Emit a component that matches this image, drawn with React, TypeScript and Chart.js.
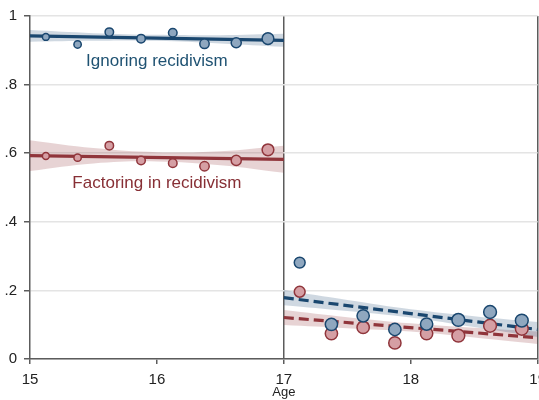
import { useEffect, useRef } from "react";
import { Chart, registerables } from "chart.js";

Chart.register(...registerables);

// Binned means by age, on each side of the age-17 cutoff
const preAges = [15.125, 15.375, 15.625, 15.875, 16.125, 16.375, 16.625, 16.875];
const postAges = [17.125, 17.375, 17.625, 17.875, 18.125, 18.375, 18.625, 18.875];

// Relative number of observations per bin (marker area)
const preBinWeights = [0.29, 0.33, 0.44, 0.44, 0.45, 0.54, 0.62, 0.84];
const postBinWeights = [0.72, 0.92, 0.92, 0.92, 0.92, 1.0, 1.0, 1.0];

const ignoringPre = [0.939, 0.917, 0.953, 0.934, 0.951, 0.919, 0.922, 0.934];
const ignoringPost = [0.281, 0.101, 0.126, 0.086, 0.102, 0.114, 0.137, 0.112];
const factoringPre = [0.592, 0.587, 0.622, 0.579, 0.571, 0.562, 0.579, 0.61];
const factoringPost = [0.196, 0.074, 0.092, 0.047, 0.074, 0.068, 0.097, 0.088];

// Linear fits on each side of the cutoff
const fitAgesPre = [15, 17];
const fitAgesPost = [17, 19];
const ignoringFitPre = [0.942, 0.929];
const ignoringFitPost = [0.179, 0.086];
const factoringFitPre = [0.593, 0.582];
const factoringFitPost = [0.121, 0.062];

// 95% confidence bands around the fits
const bandAgesPre = [15, 15.5, 16, 16.5, 17];
const bandAgesPost = [17, 17.5, 18, 18.5, 19];
const ignoringUpperPre = [0.959, 0.95, 0.945, 0.944, 0.948];
const ignoringLowerPre = [0.925, 0.928, 0.928, 0.92, 0.91];
const factoringUpperPre = [0.638, 0.615, 0.603, 0.606, 0.622];
const factoringLowerPre = [0.548, 0.57, 0.576, 0.565, 0.543];
const ignoringUpperPost = [0.201, 0.172, 0.145, 0.125, 0.108];
const ignoringLowerPost = [0.157, 0.14, 0.121, 0.093, 0.064];
const factoringUpperPost = [0.143, 0.122, 0.104, 0.091, 0.08];
const factoringLowerPost = [0.099, 0.09, 0.08, 0.063, 0.044];

const xTicks = [15, 16, 17, 18, 19];
const yTicks = [0, 0.2, 0.4, 0.6, 0.8, 1];
const yTickLabels = ["0", ".2", ".4", ".6", ".8", "1"];
const xTitle = "Age";
const seriesNames = ["Ignoring recidivism", "Factoring in recidivism"];

const NAVY = "#1a476f";
const MAROON = "#90353b";
const NAVY_FILL = "#8fa7bf";
const MAROON_FILL = "#d59fa4";
const NAVY_BAND = "rgba(26,71,111,0.21)";
const MAROON_BAND = "rgba(144,53,59,0.22)";
const FONT = "'Liberation Sans', Arial, sans-serif";

const pts = (xs: number[], ys: number[]) => xs.map((x, i) => ({ x, y: ys[i] }));
const radius = (w: number) => 6.4 * Math.sqrt(w);

const seriesLabelPlugin = {
  id: "seriesLabels",
  afterDatasetsDraw(chart: any) {
    const { ctx, scales } = chart;
    const items = [
      { text: seriesNames[0], x: 16, y: 0.855, color: "#1f5272" },
      { text: seriesNames[1], x: 16, y: 0.4985, color: "#872f35" },
    ];
    ctx.save();
    ctx.font = `17px ${FONT}`;
    ctx.textAlign = "center";
    ctx.textBaseline = "alphabetic";
    for (const it of items) {
      ctx.fillStyle = it.color;
      ctx.fillText(it.text, scales.x.getPixelForValue(it.x), scales.y.getPixelForValue(it.y));
    }
    ctx.restore();
  },
};

export default function App() {
  const canvasRef = useRef<HTMLCanvasElement | null>(null);

  useEffect(() => {
    const canvas = canvasRef.current;
    if (!canvas) return;

    const band = (xs: number[], ys: number[], color: string, fill: any) => ({
      data: pts(xs, ys),
      borderWidth: 0,
      borderColor: "rgba(0,0,0,0)",
      backgroundColor: color,
      pointRadius: 0,
      tension: 0.4,
      fill,
      order: 3,
    });
    const fit = (xs: number[], ys: number[], color: string, dashed: boolean) => ({
      data: pts(xs, ys),
      borderColor: color,
      borderWidth: 3.2,
      borderDash: dashed ? [10, 5] : [],
      pointRadius: 0,
      fill: false,
      order: 2,
    });
    const marks = (xs: number[], ys: number[], weights: number[], fillC: string, edge: string) => ({
      data: pts(xs, ys),
      showLine: false,
      pointRadius: weights.map(radius),
      pointBackgroundColor: fillC,
      pointBorderColor: edge,
      pointBorderWidth: 1.5,
      fill: false,
      order: 1,
    });

    const chart = new Chart(canvas, {
      type: "line",
      data: {
        datasets: [
          band(bandAgesPre, ignoringUpperPre, NAVY_BAND, false),
          band(bandAgesPre, ignoringLowerPre, NAVY_BAND, "-1"),
          band(bandAgesPre, factoringUpperPre, MAROON_BAND, false),
          band(bandAgesPre, factoringLowerPre, MAROON_BAND, "-1"),
          band(bandAgesPost, ignoringUpperPost, NAVY_BAND, false),
          band(bandAgesPost, ignoringLowerPost, NAVY_BAND, "-1"),
          band(bandAgesPost, factoringUpperPost, MAROON_BAND, false),
          band(bandAgesPost, factoringLowerPost, MAROON_BAND, "-1"),
          fit(fitAgesPre, ignoringFitPre, NAVY, false),
          fit(fitAgesPre, factoringFitPre, MAROON, false),
          fit(fitAgesPost, ignoringFitPost, NAVY, true),
          fit(fitAgesPost, factoringFitPost, MAROON, true),
          marks(preAges, ignoringPre, preBinWeights, NAVY_FILL, NAVY),
          marks(preAges, factoringPre, preBinWeights, MAROON_FILL, MAROON),
          marks(postAges, ignoringPost, postBinWeights, NAVY_FILL, NAVY),
          marks(postAges, factoringPost, postBinWeights, MAROON_FILL, MAROON),
        ] as any,
      },
      options: {
        animation: false,
        responsive: false,
        devicePixelRatio: 1,
        layout: { padding: { top: 15, right: 9, left: 0, bottom: 0 } },
        plugins: {
          legend: { display: false },
          tooltip: { enabled: false },
        },
        scales: {
          x: {
            type: "linear",
            min: 15,
            max: 19,
            afterBuildTicks: (s: any) => {
              s.ticks = xTicks.map((v) => ({ value: v }));
            },
            afterFit: (s: any) => {
              s.height = 41;
            },
            ticks: {
              font: { family: FONT, size: 15 },
              color: "#222",
              padding: 7,
              maxRotation: 0,
              callback: (v: any) => String(v),
            },
            grid: {
              color: (c: any) =>
                c.tick && (c.tick.value === 17 || c.tick.value === 19) ? "#5c5c5c" : "rgba(0,0,0,0)",
              lineWidth: 1.5,
              tickColor: "#5c5c5c",
              tickLength: 5,
              drawTicks: true,
            },
            border: { display: true, color: "#5c5c5c", width: 1.5 },
            title: {
              display: true,
              text: xTitle,
              color: "#222",
              font: { family: FONT, size: 13 },
              padding: { top: 0, bottom: 0 },
            },
          },
          y: {
            type: "linear",
            min: 0,
            max: 1,
            afterBuildTicks: (s: any) => {
              s.ticks = yTicks.map((v) => ({ value: v }));
            },
            afterFit: (s: any) => {
              s.width = 30;
            },
            ticks: {
              font: { family: FONT, size: 15 },
              color: "#222",
              padding: 7,
              callback: (_v: any, i: number) => yTickLabels[i],
            },
            grid: {
              color: "#e4e4e4",
              lineWidth: 1.5,
              tickColor: "#5c5c5c",
              tickLength: 6,
              drawTicks: true,
            },
            border: { display: true, color: "#5c5c5c", width: 1.5 },
          },
        },
      },
      plugins: [seriesLabelPlugin],
    });

    return () => chart.destroy();
  }, []);

  return (
    <div
      style={{
        position: "absolute",
        left: 0,
        top: 0,
        width: 539,
        height: 400,
        overflow: "hidden",
        background: "#fff",
      }}
    >
      <canvas ref={canvasRef} width={553} height={400} style={{ display: "block", width: 553, height: 400 }} />
    </div>
  );
}
